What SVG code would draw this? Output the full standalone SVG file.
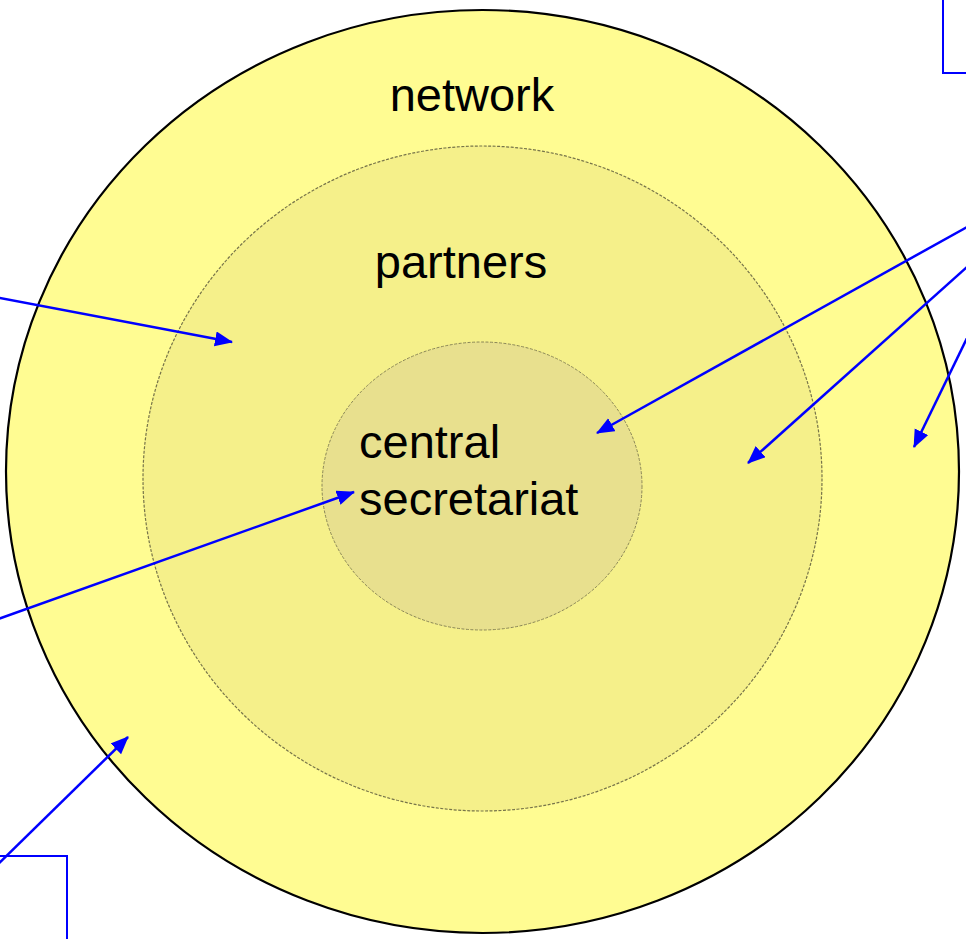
<svg xmlns="http://www.w3.org/2000/svg" width="966" height="939" viewBox="0 0 966 939">
<style>
.lbl{font-family:"Liberation Sans",Arial,sans-serif;font-size:47px;fill:#000}
.conn{stroke:#0000FF;stroke-width:2.5;fill:none;marker-end:url(#ah)}
.box{stroke:#0000FF;stroke-width:2;fill:#fff}
</style>
<defs>
<marker id="ah" markerUnits="userSpaceOnUse" markerWidth="20" markerHeight="16" refX="17" refY="7.5" orient="auto">
<path d="M0,0 L18,7.5 L0,15 z" fill="#0000FF"/>
</marker>
</defs>
<rect width="966" height="939" fill="#fff"/>
<g id="network">
<ellipse cx="482.5" cy="471.5" rx="476.5" ry="461.5" fill="#FFFC92" stroke="#000" stroke-width="2.2"/>
<text class="lbl" x="472" y="111" text-anchor="middle">network</text>
</g>
<g id="partners">
<ellipse cx="482.5" cy="478.5" rx="339.5" ry="332.5" fill="#F5F08A" stroke="#77744a" stroke-width="1.2" stroke-dasharray="3,1.5"/>
<text class="lbl" x="461" y="278" text-anchor="middle">partners</text>
</g>
<g id="central">
<ellipse cx="482" cy="486" rx="160" ry="144" fill="#E8E08E" stroke="#8a8658" stroke-width="1" stroke-dasharray="3,1.5"/>
<text class="lbl" x="359" y="458">central</text>
<text class="lbl" x="359" y="515">secretariat</text>
</g>
<g id="box-top-right">
<rect class="box" x="943" y="-20" width="60" height="93"/>
</g>
<g id="box-bottom-left">
<rect class="box" x="-20" y="856" width="87" height="120"/>
</g>
<g id="connectors">
<line class="conn" x1="-10" y1="296" x2="232" y2="342"/>
<line class="conn" x1="-10" y1="622" x2="354" y2="492"/>
<line class="conn" x1="976" y1="222" x2="597" y2="433"/>
<line class="conn" x1="976" y1="259" x2="748" y2="463"/>
<line class="conn" x1="970" y1="332" x2="914" y2="447"/>
<line class="conn" x1="-10" y1="872" x2="128" y2="737"/>
</g>
</svg>
